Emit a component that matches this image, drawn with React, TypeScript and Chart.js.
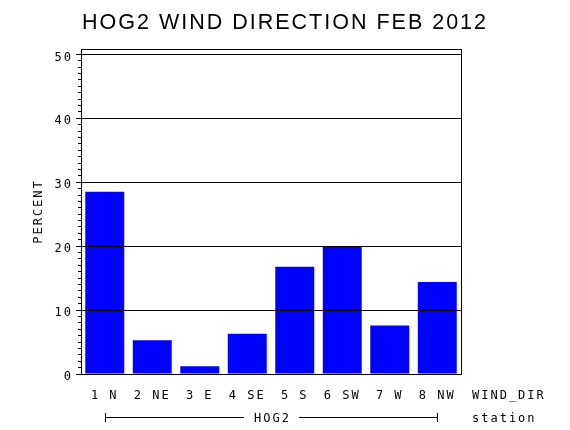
import React, { useEffect, useRef } from 'react';
import { Chart, registerables } from 'chart.js';

Chart.register(...registerables);

const categories = ['1 N', '2 NE', '3 E', '4 SE', '5 S', '6 SW', '7 W', '8 NW'];
const percent = [28.5, 5.3, 1.2, 6.3, 16.8, 20.0, 7.6, 14.4];
const yTicks = [0, 10, 20, 30, 40, 50];
const yMax = 50.85;
const chartTitle = 'HOG2 WIND DIRECTION FEB 2012';
const yLabel = 'PERCENT';
const xLabel = 'WIND_DIR';
const groupName = 'HOG2';
const groupLabel = 'station';

const MONO = '"DejaVu Sans Mono", monospace';

// the reference text is widely spaced, so give every text a bit of letter spacing
const spacingPlugin = {
  id: 'spacing',
  beforeLayout(chart: any) {
    chart.ctx.letterSpacing = '2px';
  },
  beforeDraw(chart: any) {
    chart.ctx.letterSpacing = '2px';
  },
};

// frame round the plot, the axis name and the station bracket under the labels
const extrasPlugin = {
  id: 'extras',
  afterDraw(chart: any) {
    const { ctx, chartArea: a, scales } = chart;
    const x = scales.x;
    ctx.save();
    ctx.letterSpacing = '2px';
    ctx.strokeStyle = '#000';
    ctx.lineWidth = 1;
    const l = Math.round(a.left) + 0.5;
    const t = Math.round(a.top) + 0.5;
    ctx.strokeRect(l, t, Math.round(a.right) - Math.round(a.left), Math.round(a.bottom) - Math.round(a.top));

    ctx.fillStyle = '#000';
    ctx.font = `12px ${MONO}`;
    ctx.textAlign = 'left';
    ctx.textBaseline = 'top';
    ctx.fillText(xLabel, a.right + 11, a.bottom + 15.5);

    const by = Math.round(a.bottom) + 43.5;
    const x0 = Math.round(x.getPixelForValue(0)) + 0.5;
    const x1 = Math.round(x.getPixelForValue(categories.length - 1)) + 0.5;
    const mid = (x0 + x1) / 2;
    const w = ctx.measureText(groupName).width;

    ctx.textBaseline = 'middle';
    ctx.fillText(groupLabel, a.right + 11, by + 1);
    ctx.textAlign = 'center';
    ctx.fillText(groupName, mid + 1, by + 1);

    ctx.beginPath();
    ctx.moveTo(x0, by);
    ctx.lineTo(mid - w / 2 - 9, by);
    ctx.moveTo(mid + w / 2 + 9, by);
    ctx.lineTo(x1, by);
    ctx.moveTo(x0, by - 4.5);
    ctx.lineTo(x0, by + 4.5);
    ctx.moveTo(x1, by - 4.5);
    ctx.lineTo(x1, by + 4.5);
    ctx.stroke();
    ctx.restore();
  },
};

const App: React.FC = () => {
  const canvasRef = useRef<HTMLCanvasElement>(null);

  useEffect(() => {
    const canvas = canvasRef.current;
    if (!canvas) return;
    const chart = new Chart(canvas, {
      type: 'bar',
      data: {
        labels: categories,
        datasets: [
          {
            data: percent,
            backgroundColor: '#0000ff',
            borderWidth: 0,
            barPercentage: 0.82,
            categoryPercentage: 1,
          },
        ],
      },
      options: {
        animation: false,
        responsive: false,
        devicePixelRatio: 1,
        layout: { padding: 0 },
        plugins: {
          legend: { display: false },
          tooltip: { enabled: false },
          title: {
            display: true,
            text: chartTitle,
            color: '#000',
            font: { family: '"Liberation Sans", Arial, sans-serif', size: 21.5, weight: 'normal', lineHeight: 1 },
            padding: { top: 12.5, bottom: 15 },
          },
        },
        scales: {
          x: {
            grid: { display: false },
            border: { display: false },
            ticks: {
              color: '#000',
              font: { family: MONO, size: 12 },
              padding: 7,
              maxRotation: 0,
              autoSkip: false,
            },
            afterFit: (s: any) => {
              s.height = 56;
            },
          },
          y: {
            position: 'left',
            weight: 1,
            min: 0,
            max: yMax,
            afterBuildTicks: (s: any) => {
              s.ticks = yTicks.map((v) => ({ value: v }));
            },
            grid: {
              color: '#000',
              lineWidth: 1,
              tickLength: 5,
              tickColor: '#000',
              z: 1,
            },
            border: { display: false },
            ticks: {
              color: '#000',
              font: { family: MONO, size: 12 },
              padding: 3,
              labelOffset: 3,
            },
            title: {
              display: true,
              text: yLabel,
              color: '#000',
              font: { family: MONO, size: 12 },
              padding: { top: 32, bottom: 0 },
            },
            afterFit: (s: any) => {
              s.width = 81;
            },
          },
          yMinor: {
            position: 'left',
            weight: 0,
            min: 0,
            max: yMax,
            afterBuildTicks: (s: any) => {
              s.ticks = s.ticks.filter((t: any) => Number.isInteger(t.value));
            },
            grid: {
              drawOnChartArea: false,
              tickLength: 3,
              tickColor: '#000',
            },
            border: { display: false },
            ticks: { display: false, stepSize: 1 },
            afterFit: (s: any) => {
              s.width = 0;
            },
          },
          // empty space on the right for the axis names
          yRight: {
            position: 'right',
            min: 0,
            max: yMax,
            grid: { display: false },
            border: { display: false },
            ticks: { display: false },
            afterFit: (s: any) => {
              s.width = 109;
            },
          },
        },
      },
      plugins: [spacingPlugin, extrasPlugin],
    } as any);

    return () => {
      chart.destroy();
    };
  }, []);

  return (
    <div style={{ position: 'fixed', left: 0, top: 0, width: 570, height: 430, background: '#fff' }}>
      <canvas ref={canvasRef} width={570} height={430}></canvas>
    </div>
  );
};

export default App;
